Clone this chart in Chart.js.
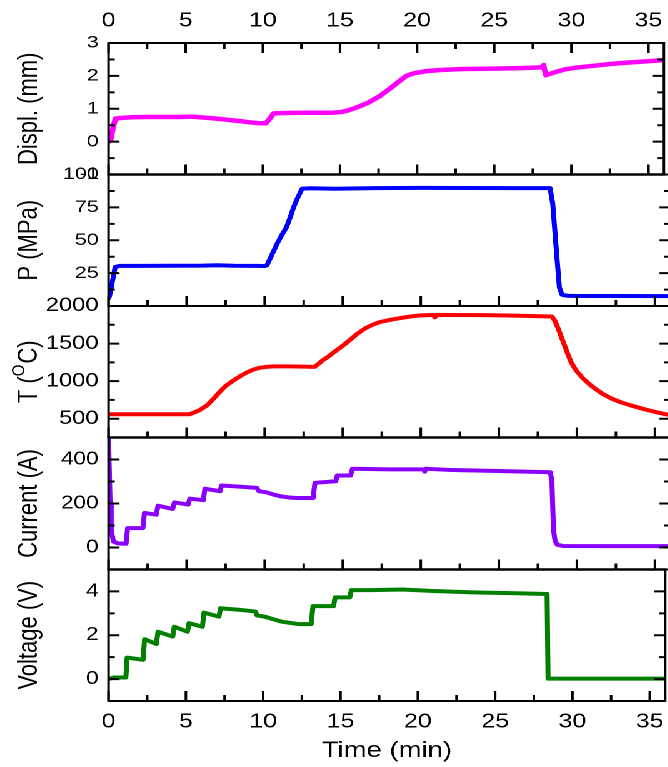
<!DOCTYPE html>
<html>
<head>
<meta charset="utf-8">
<title>Sintering run: displacement, pressure, temperature, current and voltage</title>
<script src="https://cdn.jsdelivr.net/npm/chart.js@4"></script>
<style>
  html, body { margin: 0; padding: 0; background: #fff; overflow: hidden; width: 668px; height: 767px; }
  /* the figure is laid out in a narrower box and widened horizontally */
  #stage { position: absolute; left: 0; top: 0; width: 540px; height: 767px;
           transform: scaleX(1.25); transform-origin: 0 0; }
  #stage canvas { position: absolute; left: 0; top: 0; }
</style>
</head>
<body>
<div id="stage">
  <canvas id="displ" width="540" height="767"></canvas>
  <canvas id="press" width="540" height="767"></canvas>
  <canvas id="temp" width="540" height="767"></canvas>
  <canvas id="curr" width="540" height="767"></canvas>
  <canvas id="volt" width="540" height="767"></canvas>
</div>
<script>
// ---- data -------------------------------------------------------------
const timeTicks = [0, 5, 10, 15, 20, 25, 30, 35];

const displTime = [0, 0.12, 0.3, 0.45, 0.8, 1.5, 2.5, 3.5, 4.5, 5.4, 6.2, 7.0, 7.8, 8.6, 9.3, 9.8, 10.2, 10.45, 10.7, 11.5,
                   12.5, 13.5, 14.5, 15.1, 15.6, 16.2, 16.8, 17.5, 18.2, 18.8, 19.3, 19.8, 20.5, 21.5, 23, 25, 27, 28.1, 28.2, 28.25,
                   28.35, 28.6, 29.0, 29.6, 30.5, 31.5, 32.5, 33.5, 34.5, 36];
const displMm   = [0, 0.02, 0.45, 0.7, 0.72, 0.74, 0.75, 0.75, 0.75, 0.76, 0.73, 0.7, 0.66, 0.62, 0.58, 0.56, 0.56, 0.7, 0.86, 0.87,
                   0.88, 0.88, 0.88, 0.9, 0.96, 1.06, 1.18, 1.36, 1.6, 1.82, 2.0, 2.08, 2.14, 2.18, 2.21, 2.22, 2.24, 2.26, 2.33, 2.2,
                   2.02, 2.06, 2.12, 2.2, 2.26, 2.31, 2.36, 2.4, 2.43, 2.48];
const displTicks = [-1, 0, 1, 2, 3];

const pressTime = [0, 0.06, 0.25, 0.42, 0.7, 2, 4, 6, 7, 8, 9.5, 10.0, 10.15, 10.5, 10.8, 11.1, 11.4, 11.65, 11.85, 12.1,
                   12.4, 13, 14.5, 17, 20, 23, 26, 28.28, 28.45, 28.7, 28.88, 29.05, 29.4, 30, 33, 36];
const pressMPa  = [6, 7.4, 19, 29.6, 30.5, 30.5, 30.6, 30.7, 31, 30.6, 30.5, 30.4, 31, 40, 47.5, 54, 60, 68, 75, 82,
                   89.3, 89.5, 89.2, 89.6, 89.8, 89.7, 89.6, 89.6, 78, 40, 14, 8.5, 7.8, 7.6, 7.6, 7.5];
const pressTicks = [25, 50, 75, 100];

const tempTime = [0, 5.2, 5.8, 6.3, 6.7, 7.1, 7.5, 8.0, 8.5, 8.9, 9.3, 9.7, 10.2, 10.6, 11.5, 12.5, 13.2, 13.45, 13.7, 14.1,
                  14.5, 15.0, 15.5, 15.9, 16.4, 16.9, 17.4, 18.0, 18.7, 19.4, 20.0, 20.8, 20.9, 21.0, 22, 24, 26, 28.4, 28.6, 28.8,
                  29.0, 29.2, 29.4, 29.6, 29.8, 30.0, 30.4, 30.8, 31.2, 31.7, 32.2, 32.8, 33.4, 34.0, 34.6, 35.2, 35.8, 36];
const tempC    = [560, 560, 610, 676, 760, 853, 935, 1010, 1075, 1120, 1155, 1179, 1192, 1196, 1196, 1194, 1190, 1230, 1276, 1330,
                  1395, 1470, 1555, 1625, 1698, 1750, 1787, 1815, 1840, 1862, 1876, 1880, 1850, 1882, 1880, 1878, 1872, 1860, 1800, 1700,
                  1590, 1480, 1370, 1265, 1190, 1130, 1035, 960, 895, 825, 770, 720, 680, 645, 612, 582, 556, 550];
const tempTicks = [500, 1000, 1500, 2000];

const currTime = [0, 0.05, 0.1, 0.17, 0.31, 0.6, 1.12, 1.22, 2.2, 2.3, 3.05, 3.17, 4.1, 4.22, 5.1, 5.2, 6.07, 6.17, 7.14, 7.24,
                  8.5, 9.5, 9.62, 10.1, 10.6, 11.0, 11.5, 12.0, 13.1, 13.22, 14.55, 14.65, 15.5, 15.62, 18, 20.2, 20.25, 20.3, 22, 25,
                  28.3, 28.4, 28.5, 28.6, 28.75, 29.1, 32, 36];
const currA    = [500, 350, 200, 81, 27, 19, 17, 88, 88, 157, 149, 190, 175, 205, 195, 222, 215, 267, 256, 282,
                  276, 271, 256, 251, 240, 233, 228, 225, 225, 294, 301, 327, 327, 358, 355, 355, 345, 358, 352, 348,
                  342, 300, 81, 30, 12, 7, 6, 6];
const currTicks = [0, 200, 400];

const voltTime = [0, 0.3, 1.12, 1.2, 2.23, 2.33, 3.09, 3.2, 4.15, 4.25, 5.1, 5.2, 6.07, 6.17, 7.14, 7.24, 8.5, 9.5, 9.6, 10.1,
                  10.6, 11.2, 12.27, 13.1, 13.22, 14.55, 14.65, 15.6, 15.7, 17, 19, 21, 23.8, 26, 28.36, 28.42, 32, 36];
const voltV    = [0, 0.07, 0.07, 0.98, 0.88, 1.82, 1.6, 2.16, 1.94, 2.39, 2.16, 2.55, 2.39, 3.03, 2.85, 3.23, 3.16, 3.08, 2.9, 2.85,
                  2.74, 2.62, 2.51, 2.51, 3.33, 3.33, 3.73, 3.73, 4.06, 4.06, 4.09, 4.02, 3.95, 3.92, 3.88, 0.02, 0.02, 0.02];
const voltTicks = [0, 2, 4];

// ---- layout -----------------------------------------------------------
const FONT = "'Liberation Sans', Arial, Helvetica, sans-serif";
Chart.defaults.font.family = FONT;
Chart.defaults.color = '#000';

const CANVAS_W = 540, CANVAS_H = 767;
const PLOT_LEFT = 86.8, PLOT_RIGHT = 536.4;
const EDGES = [43, 174.5, 306, 437.5, 569.5, 701];

const zip = (xs, ys) => xs.map((x, i) => ({ x, y: ys[i] }));

// box around each panel with inward major/minor tick marks
const framePlugin = {
  id: 'frame',
  afterDraw(chart, args, o) {
    const { ctx, chartArea: a } = chart;
    const xs = chart.scales.x, ys = chart.scales.y;
    ctx.save();
    ctx.strokeStyle = '#000';
    ctx.lineWidth = 2;
    ctx.strokeRect(a.left, a.top, a.right - a.left, a.bottom - a.top);
    ctx.beginPath();
    for (let k = 0; k * 2.5 <= xs.max + 1e-9; k++) {
      const px = xs.getPixelForValue(k * 2.5);
      const len = k % 2 === 0 ? 10 : 6;
      ctx.moveTo(px, a.bottom); ctx.lineTo(px, a.bottom - len);
      if (o.topTicks) { ctx.moveTo(px, a.top); ctx.lineTo(px, a.top + len); }
    }
    const n = Math.round((ys.max - ys.min) / o.minor);
    for (let k = 0; k <= n; k++) {
      const v = ys.min + k * o.minor;
      const r = v / o.major;
      const len = Math.abs(r - Math.round(r)) < 1e-6 ? 8.8 : 5;
      const py = ys.getPixelForValue(v);
      ctx.moveTo(a.left, py); ctx.lineTo(a.left + len, py);
      ctx.moveTo(a.right, py); ctx.lineTo(a.right - len, py);
    }
    ctx.stroke();
    ctx.restore();
  }
};

// temperature axis title with a raised "O" before the C
const tempTitlePlugin = {
  id: 'tempTitle',
  afterDraw(chart) {
    const { ctx, chartArea: a } = chart;
    ctx.save();
    ctx.translate(23.2, (a.top + a.bottom) / 2);
    ctx.rotate(-Math.PI / 2);
    ctx.fillStyle = '#000';
    ctx.textBaseline = 'middle';
    ctx.textAlign = 'left';
    const big = '22px ' + FONT, small = '15px ' + FONT;
    ctx.font = big;
    const w1 = ctx.measureText('T (').width, w3 = ctx.measureText('C)').width;
    ctx.font = small;
    const w2 = ctx.measureText('O').width + 1;
    let x = -(w1 + w2 + w3) / 2;
    ctx.font = big;  ctx.fillText('T (', x, 0); x += w1;
    ctx.font = small; ctx.fillText('O', x, -8); x += w2;
    ctx.font = big;  ctx.fillText('C)', x, 0);
    ctx.restore();
  }
};

function makePanel(id, o) {
  const isTop = o.xAxis === 'top', isBottom = o.xAxis === 'bottom';
  return new Chart(document.getElementById(id), {
    type: 'line',
    data: {
      datasets: [{
        data: o.points,
        borderColor: o.color,
        borderWidth: o.lineWidth,
        pointRadius: 0,
        tension: 0,
        fill: false,
        borderJoinStyle: 'round',
        borderCapStyle: 'round'
      }]
    },
    options: {
      responsive: false,
      animation: false,
      devicePixelRatio: 2,
      events: [],
      layout: {
        padding: {
          left: 0,
          right: CANVAS_W - PLOT_RIGHT,
          top: isTop ? 0 : o.top,
          bottom: isBottom ? 0 : CANVAS_H - o.bottom
        }
      },
      plugins: {
        legend: { display: false },
        tooltip: { enabled: false },
        frame: { topTicks: isTop, minor: o.minor, major: o.major }
      },
      scales: {
        x: {
          type: 'linear', min: 0, max: 36,
          display: isTop || isBottom,
          position: isTop ? 'top' : 'bottom',
          grid: { display: false, drawTicks: false },
          border: { display: false },
          ticks: { font: { size: 20 }, padding: isTop ? 10 : 9, maxRotation: 0, autoSkip: false, callback: v => String(v) },
          afterBuildTicks: s => { s.ticks = timeTicks.map(v => ({ value: v })); },
          afterFit: s => {
            if (isTop) s.height = o.top;
            else if (isBottom) s.height = CANVAS_H - o.bottom;
            else s.height = 0;
          },
          title: { display: isBottom, text: 'Time (min)', font: { size: 22 }, padding: { top: 0, bottom: 3 } }
        },
        y: {
          type: 'linear', min: o.min, max: o.max,
          position: 'left',
          grid: { display: false, drawTicks: false },
          border: { display: false },
          ticks: { font: { size: o.tickSize }, padding: 8, autoSkip: false, callback: v => String(v) },
          afterBuildTicks: s => { s.ticks = o.labels.map(v => ({ value: v })); },
          afterFit: s => { s.width = PLOT_LEFT; },
          title: { display: !!o.title, text: o.title || '', font: { size: 22 }, padding: { top: 10, bottom: 0 } }
        }
      }
    },
    plugins: [framePlugin].concat(o.extra || [])
  });
}

makePanel('displ', {
  xAxis: 'top', top: EDGES[0], bottom: EDGES[1],
  points: zip(displTime, displMm), color: '#ff00ff', lineWidth: 4.5,
  min: -1, max: 3, labels: displTicks, minor: 0.5, major: 1, tickSize: 17,
  title: 'Displ. (mm)'
});
makePanel('press', {
  top: EDGES[1], bottom: EDGES[2],
  points: zip(pressTime, pressMPa), color: '#0000ff', lineWidth: 4,
  min: 0, max: 100, labels: pressTicks, minor: 12.5, major: 25, tickSize: 17,
  title: 'P (MPa)'
});
makePanel('temp', {
  top: EDGES[2], bottom: EDGES[3],
  points: zip(tempTime, tempC), color: '#ff0000', lineWidth: 4,
  min: 250, max: 2000, labels: tempTicks, minor: 250, major: 500, tickSize: 19,
  extra: [tempTitlePlugin]
});
makePanel('curr', {
  top: EDGES[3], bottom: EDGES[4],
  points: zip(currTime, currA), color: '#8a00ff', lineWidth: 4,
  min: -100, max: 500, labels: currTicks, minor: 100, major: 200, tickSize: 18,
  title: 'Current (A)'
});
makePanel('volt', {
  xAxis: 'bottom', top: EDGES[4], bottom: EDGES[5],
  points: zip(voltTime, voltV), color: '#007f00', lineWidth: 4,
  min: -1, max: 5, labels: voltTicks, minor: 1, major: 2, tickSize: 18,
  title: 'Voltage (V)'
});
</script>
</body>
</html>
